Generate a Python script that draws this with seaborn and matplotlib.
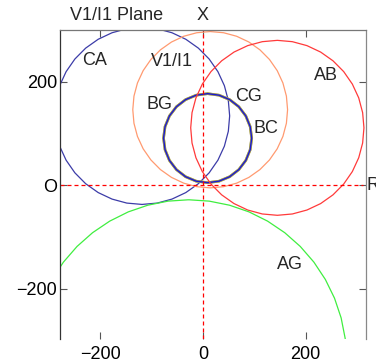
import numpy as np
import pandas as pd
import matplotlib
matplotlib.use("Agg")
import matplotlib.pyplot as plt
import seaborn as sns
from matplotlib.patches import RegularPolygon

# characteristic circles in the V1/I1 plane (centre x, centre y, radius)
names = ["CA", "V1/I1", "BG", "CG", "BC", "AB", "AG"]
center_x = [-119, 14, 9, 9, 9, 145, -28]
center_y = [134, 146, 91, 91, 91, 111, -336]
radius = [171, 151, 86, 86, 86, 169, 308]
colors = ["#3c3ca8", "#ff9a70", "#a8a050", "#a8a050", "#1a1ad0", "#ff3a3a", "#40ee40"]
widths = [0.9, 0.9, 1.9, 1.9, 1.0, 0.9, 0.9]
n_vertices = [36, 36, 24, 24, 24, 36, 48]

# label positions
label_text = ["CA", "V1/I1", "BG", "CG", "BC", "AB", "AG"]
label_x = [-211, -60, -84, 88, 123, 240, 170]
label_y = [242, 239, 157, 171, 109, 213, -154]

xticks = [-200, 0, 200]
xtick_labels = ["\u2212200", "0", "200"]
yticks = [-200, 0, 200]
ytick_labels = ["\u2212200", "O", "200"]

circles = pd.DataFrame({"name": names, "cx": center_x, "cy": center_y,
                        "r": radius, "color": colors, "lw": widths, "n": n_vertices})

sns.set_style("ticks")
plt.rcParams["font.family"] = ["Liberation Sans", "DejaVu Sans"]
plt.rcParams["font.size"] = 13

fig = plt.figure(figsize=(3.76, 3.62), dpi=100)
ax = fig.add_axes([60 / 376, 23 / 362, 306 / 376, 309 / 362])

for _, c in circles.iterrows():
    ax.add_patch(RegularPolygon((c["cx"], c["cy"]), numVertices=int(c["n"]), radius=c["r"],
                                fill=False, edgecolor=c["color"], linewidth=c["lw"]))

# reference axes through the origin
ax.axhline(0, xmax=0.99, color="red", lw=0.9, linestyle=(0, (3.2, 2.4)))
ax.axvline(0, color="red", lw=0.9, linestyle=(0, (3.2, 2.4)))

for t, x, y in zip(label_text, label_x, label_y):
    ax.text(x, y, t, ha="center", va="center", fontsize=13)

ax.set_xlim(-279, 318)
ax.set_ylim(-297, 300)
ax.set_xticks(xticks)
ax.set_xticklabels(xtick_labels)
ax.set_yticks(yticks)
ax.set_yticklabels(ytick_labels)
ax.tick_params(direction="in", length=5, width=0.8, top=True, right=True,
               labelsize=13, colors="#555555", labelcolor="black")
ax.tick_params(axis="y", pad=2)
ax.tick_params(axis="x", pad=5)

ax.spines["bottom"].set_visible(False)
ax.spines["left"].set_color("#333333")
ax.spines["top"].set_color("#777777")
ax.spines["right"].set_color("#888888")
for s in ax.spines.values():
    s.set_linewidth(0.9)

ax.text(0.186, 1.046, "V1/I1 Plane", transform=ax.transAxes, ha="center", va="center")
ax.text(0, 1.046, "X", transform=ax.get_xaxis_transform(), ha="center", va="center")
ax.text(1.003, 0, "R", transform=ax.get_yaxis_transform(), ha="left", va="center")

fig.savefig("out.png", dpi=100)
